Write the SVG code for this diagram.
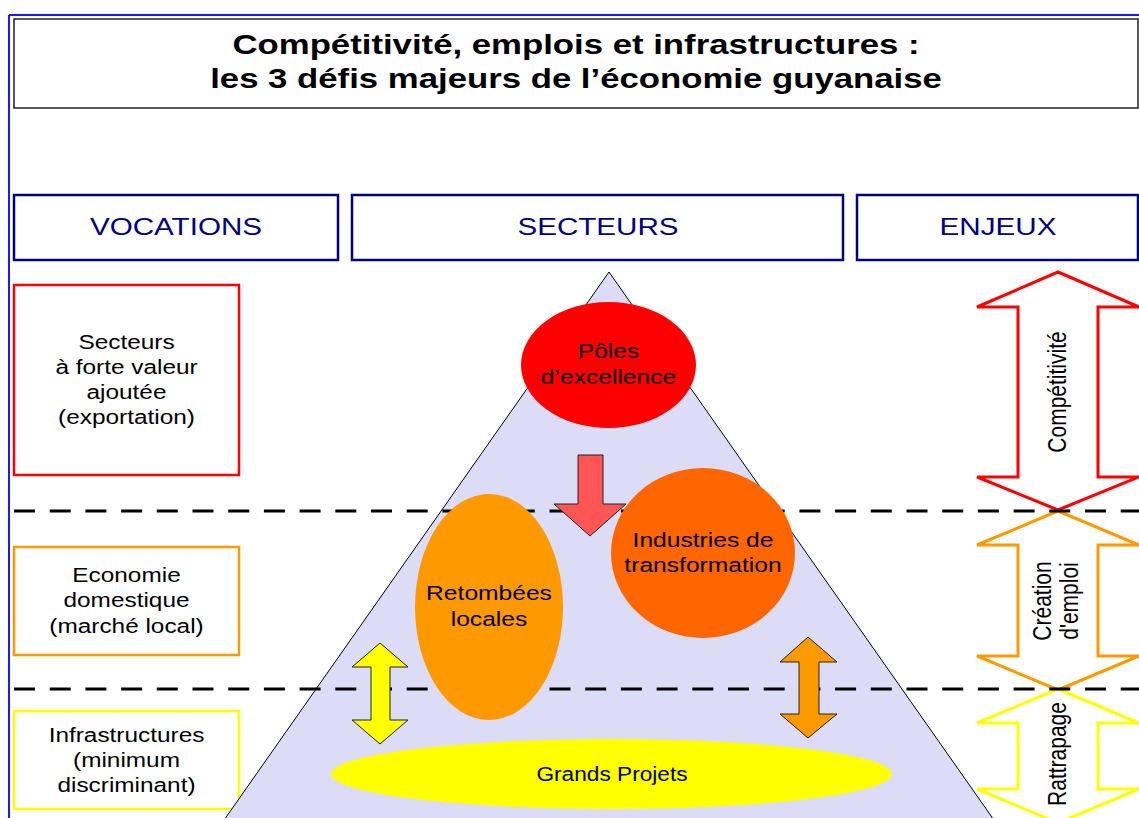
<svg xmlns="http://www.w3.org/2000/svg" width="1139" height="818" viewBox="0 0 1139 818">
  <style>
    .t { font-family: "Liberation Sans", Arial, sans-serif; fill: #000; text-anchor: middle; }
    .title { font-size: 27.8px; font-weight: bold; }
    .head { font-size: 23.7px; fill: #000080; }
    .lbl { font-size: 19.5px; }
    .nd { font-size: 19.7px; }
    .rot { font-size: 21px; }
    .hbox { fill: #fff; stroke: #000080; stroke-width: 2.5; }
    .vbox { fill: #fff; stroke-width: 2.5; }
    .dash { stroke: #000; stroke-width: 3; stroke-dasharray: 21 14.7; fill: none; }
    .enj { stroke-width: 3; fill: #fff; stroke-linejoin: miter; }
    .small { stroke: #222; stroke-width: 1; }
  </style>

  <!-- page frame -->
  <g id="frame">
    <line x1="9" y1="15" x2="1139" y2="15" stroke="#1a1aff" stroke-width="2"/>
    <line x1="9" y1="15" x2="9" y2="818" stroke="#1a1aff" stroke-width="2"/>
  </g>

  <!-- title -->
  <g id="title">
    <rect x="14" y="19" width="1124" height="89" fill="#fff" stroke="#222" stroke-width="1.5"/>
    <g transform="translate(576 0) scale(1.25 1)">
      <text class="t title" x="0" y="54">Compétitivité, emplois et infrastructures :</text>
      <text class="t title" x="0" y="88">les 3 défis majeurs de l’économie guyanaise</text>
    </g>
  </g>

  <!-- column headers -->
  <g id="hdr-vocations">
    <rect class="hbox" x="14" y="195" width="324" height="65"/>
    <g transform="translate(176 0) scale(1.25 1)"><text class="t head" x="0" y="235">VOCATIONS</text></g>
  </g>
  <g id="hdr-secteurs">
    <rect class="hbox" x="352" y="195" width="491" height="65"/>
    <g transform="translate(598 0) scale(1.25 1)"><text class="t head" x="0" y="235">SECTEURS</text></g>
  </g>
  <g id="hdr-enjeux">
    <rect class="hbox" x="857" y="195" width="281" height="65"/>
    <g transform="translate(998 0) scale(1.25 1)"><text class="t head" x="0" y="235">ENJEUX</text></g>
  </g>

  <!-- vocations -->
  <g id="voc-export">
    <rect class="vbox" x="14" y="285" width="225" height="190" stroke="#ff0000"/>
    <g transform="translate(126.5 0) scale(1.25 1)">
      <text class="t lbl" x="0" y="349">Secteurs</text>
      <text class="t lbl" x="0" y="374">à forte valeur</text>
      <text class="t lbl" x="0" y="399">ajoutée</text>
      <text class="t lbl" x="0" y="424">(exportation)</text>
    </g>
  </g>
  <g id="voc-domestique">
    <rect class="vbox" x="14" y="547" width="225" height="108" stroke="#ff9900"/>
    <g transform="translate(126.5 0) scale(1.25 1)">
      <text class="t lbl" x="0" y="582">Economie</text>
      <text class="t lbl" x="0" y="607">domestique</text>
      <text class="t lbl" x="0" y="633">(marché local)</text>
    </g>
  </g>
  <g id="voc-infra">
    <rect class="vbox" x="14" y="711" width="225" height="98" stroke="#ffff00"/>
    <g transform="translate(126.5 0) scale(1.25 1)">
      <text class="t lbl" x="0" y="742">Infrastructures</text>
      <text class="t lbl" x="0" y="767">(minimum</text>
      <text class="t lbl" x="0" y="792">discriminant)</text>
    </g>
  </g>

  <!-- sector pyramid -->
  <g id="pyramid">
    <polygon points="609,272 210,840 1008,840" fill="#dcdcf7" stroke="#000" stroke-width="1"/>
  </g>

  <!-- enjeux: hollow double arrows -->
  <g id="enj-competitivite">
    <polygon class="enj" stroke="#ff0000" points="1058,272 1139,307 1098,307 1098,477 1139,477 1058,510 977,477 1018,477 1018,307 977,307"/>
    <text class="t rot" transform="translate(1066 392) scale(1.25 1) rotate(-90)" x="0" y="0">Compétitivité</text>
  </g>
  <g id="enj-emploi">
    <polygon class="enj" stroke="#ff9900" points="1058,511 1139,545 1098,545 1098,656 1139,656 1058,690 977,656 1018,656 1018,545 977,545"/>
    <text class="t rot" transform="translate(1051 601) scale(1.25 1) rotate(-90)" x="0" y="0">Création</text>
    <text class="t rot" transform="translate(1078 601) scale(1.25 1) rotate(-90)" x="0" y="0">d'emploi</text>
  </g>
  <g id="enj-rattrapage">
    <polygon class="enj" stroke="#ffff00" points="1058,689 1139,723 1098,723 1098,789 1139,789 1058,823 977,789 1018,789 1018,723 977,723"/>
    <text class="t rot" transform="translate(1066 754) scale(1.25 1) rotate(-90)" x="0" y="0">Rattrapage</text>
  </g>

  <!-- level separators -->
  <g id="separators">
    <line class="dash" x1="14" y1="511" x2="1139" y2="511"/>
    <line class="dash" x1="14" y1="689" x2="1139" y2="689"/>
  </g>

  <!-- sector nodes -->
  <g id="poles">
    <ellipse cx="608.5" cy="365" rx="87.5" ry="63" fill="#ff0000"/>
    <g transform="translate(608.5 0) scale(1.25 1)">
      <text class="t nd" x="0" y="358">Pôles</text>
      <text class="t nd" x="0" y="384">d’excellence</text>
    </g>
  </g>
  <g id="industries">
    <ellipse cx="703" cy="553" rx="92" ry="85" fill="#ff6600"/>
    <g transform="translate(703 0) scale(1.25 1)">
      <text class="t nd" x="0" y="547">Industries de</text>
      <text class="t nd" x="0" y="572">transformation</text>
    </g>
  </g>
  <g id="retombees">
    <ellipse cx="489" cy="607" rx="74" ry="113" fill="#ff9900"/>
    <g transform="translate(489 0) scale(1.25 1)">
      <text class="t nd" x="0" y="600">Retombées</text>
      <text class="t nd" x="0" y="626">locales</text>
    </g>
  </g>
  <g id="grands-projets">
    <ellipse cx="611.5" cy="774" rx="280.5" ry="35" fill="#ffff00"/>
    <g transform="translate(612 0) scale(1.08 1)">
      <text class="t nd" x="0" y="781" style="font-size:21px">Grands Projets</text>
    </g>
  </g>

  <!-- connectors -->
  <g id="connectors">
    <polygon class="small" fill="#ff5555" points="578,455 603,455 603,504 626,504 590,536 554,504 578,504"/>
    <polygon class="small" fill="#ffff00" points="380,643 408,667 390,667 390,720 408,720 380,744 352,720 371,720 371,667 352,667"/>
    <polygon class="small" fill="#ff9900" points="808,637 837,662 819,662 819,714 837,714 808,738 780,714 799,714 799,662 780,662"/>
  </g>
</svg>
